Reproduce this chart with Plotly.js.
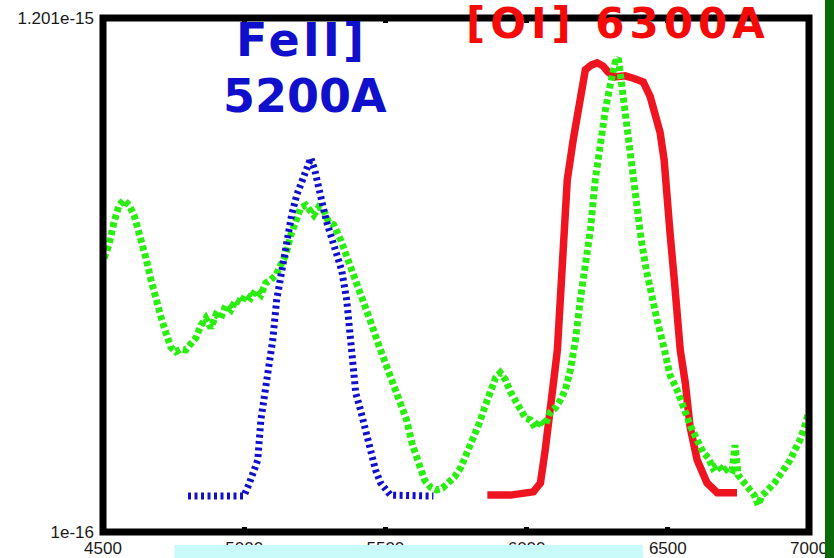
<!DOCTYPE html>
<html>
<head>
<meta charset="utf-8">
<script src="https://cdn.plot.ly/plotly-3.0.1.min.js"></script>
<style>html,body{margin:0;padding:0;background:#fff;}#chart{width:834px;height:558px;}</style>
</head>
<body>
<div id="chart"></div>
<script>
// Wavelength (Angstrom) and flux (units of 1e-16)
const greenWave = [4504,4521,4539,4557,4574,4592,4610,4634,4652,4670,4687,4705,4723,4740,4758,4776,4793,4811,4829,4847,4864,4882,4900,4917,4935,4953,4970,4988,5006,5023,5041,5059,5076,5094,5112,5129,5147,5165,5182,5200,5218,5235,5246,5264,5281,5299,5317,5342,5366,5395,5419,5448,5476,5504,5529,5554,5575,5596,5617,5639,5660,5681,5702,5723,5745,5766,5787,5808,5830,5851,5872,5890,5907,5925,5943,5960,5978,5996,6013,6031,6049,6066,6084,6102,6120,6137,6155,6173,6190,6208,6226,6243,6261,6279,6296,6314,6325,6335,6349,6363,6378,6392,6406,6424,6441,6462,6484,6508,6533,6558,6579,6604,6625,6643,6660,6678,6696,6713,6728,6738,6749,6763,6777,6791,6806,6820,6834,6848,6862,6880,6897,6915,6933,6950,6968,6986,6996];
const greenFlux = [6.87,7.15,7.64,8.00,8.11,8.00,7.79,7.32,6.87,6.40,5.97,5.61,5.26,4.96,4.86,4.92,4.90,5.01,5.16,5.43,5.58,5.37,5.65,5.58,5.86,5.76,5.97,5.91,6.08,6.01,6.18,6.08,6.33,6.40,6.50,6.72,6.93,7.36,7.68,7.94,8.00,7.90,7.79,7.96,7.90,7.64,7.58,7.25,6.87,6.40,5.97,5.50,5.01,4.58,4.15,3.78,3.40,2.86,2.44,2.11,1.96,1.90,1.94,2.07,2.18,2.37,2.65,2.97,3.29,3.66,4.04,4.30,4.41,4.26,4.00,3.83,3.61,3.44,3.40,3.23,3.40,3.29,3.57,3.66,3.83,4.04,4.47,5.11,5.97,6.72,7.47,8.54,9.40,10.04,10.57,11.07,11.15,10.68,10.04,9.18,8.54,7.90,7.25,6.61,6.08,5.54,5.01,4.36,4.04,3.61,3.29,2.97,2.71,2.59,2.37,2.44,2.29,2.37,2.33,2.86,2.22,2.11,2.01,1.90,1.79,1.58,1.79,1.86,1.94,2.07,2.22,2.37,2.54,2.76,2.97,3.29,3.51];

const blueWave = [4801,4999,5016,5034,5048,5059,5073,5087,5101,5115,5133,5151,5168,5186,5204,5222,5236,5250,5264,5278,5292,5310,5327,5345,5363,5377,5395,5412,5430,5448,5465,5483,5501,5518,5670];
const blueFlux = [1.77,1.77,2.01,2.33,2.54,3.40,3.93,4.47,5.11,5.97,6.61,7.15,7.79,8.22,8.54,8.75,9.01,8.75,8.43,8.00,7.64,7.25,7.00,6.61,5.97,5.01,3.98,3.61,3.18,2.61,2.33,2.05,1.90,1.79,1.77];

const redWave = [5861,5943,6024,6049,6066,6077,6095,6109,6120,6130,6144,6165,6190,6208,6229,6250,6271,6289,6314,6349,6378,6413,6438,6455,6473,6487,6498,6508,6523,6533,6544,6562,6579,6604,6639,6675,6745];
const redFlux = [1.79,1.79,1.86,2.05,2.76,3.46,4.19,4.90,6.18,7.32,8.54,9.40,10.32,10.90,11.00,11.05,10.98,10.85,10.75,10.77,10.72,10.64,10.32,9.93,9.55,8.97,8.33,7.40,6.40,5.54,4.90,4.19,3.25,2.54,2.05,1.84,1.84];

const xTickVals = [4500,5000,5500,6000,6500,7000];
const xTickText = ['4500','5000','5500','6000','6500','7000'];
const yTickVals = [1,12.01];
const yTickText = ['1e-16','1.201e-15'];

const traces = [
  {x: redWave, y: redFlux, type:'scatter', mode:'lines', line:{color:'#ee1520', width:7.5}, hoverinfo:'skip'},
  {x: greenWave, y: greenFlux, type:'scatter', mode:'lines', line:{color:'#2aee10', width:7, dash:'5px,3px'}, hoverinfo:'skip'},
  {x: blueWave, y: blueFlux, type:'scatter', mode:'lines', line:{color:'#1010cc', width:7, dash:'3px,3.5px'}, hoverinfo:'skip'}
];

const tickFont = {family:'Liberation Sans, Arial, sans-serif', size:17, color:'#1a1a1a'};

const layout = {
  width: 834, height: 558,
  margin: {l:102.5, r:25, t:18, b:26, pad:0},
  paper_bgcolor:'#ffffff', plot_bgcolor:'#ffffff',
  showlegend:false,
  xaxis: {
    range:[4500,7000], tickmode:'array', tickvals:xTickVals, ticktext:xTickText,
    showgrid:false, zeroline:false, showline:false,
    ticks:'inside', ticklen:5, tickwidth:5, tickcolor:'#000', mirror:'ticks',
    tickfont: tickFont, ticklabelstandoff:4
  },
  yaxis: {
    range:[1,12.01], tickmode:'array', tickvals:yTickVals, ticktext:yTickText,
    showgrid:false, zeroline:false, showline:false, ticks:'',
    tickfont: tickFont, ticklabelstandoff:8
  },
  shapes: [
    {type:'rect', xref:'paper', yref:'paper', x0:0, x1:1, y0:0, y1:1, line:{color:'#000', width:7}, layer:'above'},
    {type:'rect', xref:'paper', yref:'paper', x0:0.1012, x1:0.765, y0:-0.07, y1:-0.0253, line:{width:0}, fillcolor:'#c9fbfb', layer:'above'},
    {type:'rect', xref:'paper', yref:'paper', x0:1.0226, x1:1.06, y0:-0.07, y1:1.06, line:{width:0}, fillcolor:'#0a6a0a', layer:'above'}
  ],
  annotations: [
    {text:'<span style="letter-spacing:3px">FeII]</span>', xref:'paper', yref:'paper', x:0.281, y:0.957, xanchor:'center', yanchor:'middle', showarrow:false,
     font:{family:'DejaVu Sans', size:46, color:'#1010cc', weight:700}},
    {text:'5200A', xref:'paper', yref:'paper', x:0.2866, y:0.849, xanchor:'center', yanchor:'middle', showarrow:false,
     font:{family:'DejaVu Sans', size:46, color:'#1010cc', weight:700}},
    {text:'<span style="letter-spacing:5px">[OI] 6300A</span>', xref:'paper', yref:'paper', x:0.729, y:0.990, xanchor:'center', yanchor:'middle', showarrow:false,
     font:{family:'DejaVu Sans', size:42, color:'#f50a0a', weight:700}}
  ]
};

Plotly.newPlot('chart', traces, layout, {displayModeBar:false, staticPlot:true});
</script>
</body>
</html>
